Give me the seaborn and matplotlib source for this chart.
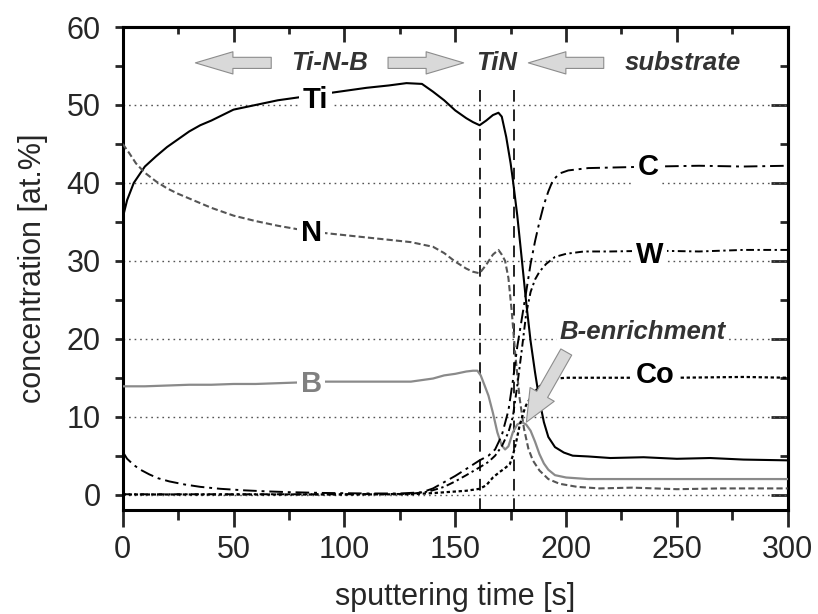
import numpy as np
import pandas as pd
import matplotlib
matplotlib.use('Agg')
import matplotlib.pyplot as plt
from matplotlib.ticker import MultipleLocator
import seaborn as sns

# --- values read from the depth profile ---
ti_x = [0, 2, 5, 10, 15, 20, 25, 30, 35, 40, 50, 60, 70, 80, 90, 100, 110, 120, 128, 135,
        140, 145, 150, 155, 158, 161, 164, 167, 169.5, 171, 173, 175, 176, 178, 180, 182, 184,
        186, 188, 190, 192, 195, 199, 203, 210, 220, 235, 250, 265, 280, 300]
ti_y = [35.5, 37.8, 40.0, 42.1, 43.4, 44.6, 45.6, 46.6, 47.4, 48.0, 49.4, 50.0, 50.6, 51.0,
        51.4, 51.8, 52.2, 52.5, 52.8, 52.7, 51.7, 50.6, 49.3, 48.3, 47.8, 47.4, 48.0, 48.7,
        49.0, 48.5, 45.9, 42.5, 40.4, 35.8, 30.3, 24.7, 19.7, 15.7, 12.1, 9.3, 7.4, 6.1, 5.4,
        5.0, 4.9, 4.7, 4.8, 4.6, 4.7, 4.5, 4.4]

n_x = [0, 3, 6, 10, 15, 20, 25, 30, 40, 50, 60, 70, 80, 90, 100, 110, 120, 130, 140, 145,
       150, 155, 158, 161, 164, 167, 169.5, 171, 172.5, 174, 175.5, 177, 179, 181, 183, 185,
       188, 192, 197, 205, 215, 230, 250, 270, 300]
n_y = [45.0, 43.8, 42.5, 41.3, 40.2, 39.3, 38.6, 38.0, 36.8, 35.8, 35.1, 34.5, 34.0, 33.6,
       33.3, 33.0, 32.7, 32.4, 31.8, 31.0, 29.9, 29.0, 28.6, 28.4, 29.5, 30.8, 31.4, 30.8,
       30.0, 27.8, 23.5, 18.3, 12.5, 8.5, 5.9, 4.4, 3.1, 2.0, 1.4, 1.0, 0.8, 0.9, 0.7, 0.8, 0.8]

b_x = [0, 10, 20, 30, 40, 50, 60, 70, 80, 90, 100, 110, 120, 130, 135, 140, 145, 150, 155,
       158, 160, 161.5, 163, 165, 167, 169, 171, 172.5, 174, 176, 178, 180, 182, 184, 186,
       188, 190, 192, 195, 200, 210, 230, 260, 300]
b_y = [13.9, 13.9, 14.0, 14.1, 14.1, 14.2, 14.2, 14.3, 14.4, 14.5, 14.5, 14.5, 14.5, 14.5,
       14.7, 14.9, 15.3, 15.5, 15.8, 15.9, 15.9, 15.3, 14.2, 12.7, 10.5, 8.0, 6.3, 5.8, 6.2,
       8.0, 9.0, 9.3, 9.0, 8.2, 6.8, 5.2, 4.0, 3.2, 2.5, 2.2, 2.0, 2.0, 2.0, 2.0]

c_x = [0, 2, 5, 8, 12, 16, 21, 28, 35, 44, 55, 65, 75, 90, 110, 125, 135, 140, 145, 150, 155,
       161, 165, 168, 171, 174, 176, 178, 180, 182, 184, 186, 188, 190, 192, 194, 197, 201,
       210, 225, 240, 260, 280, 300]
c_y = [5.5, 4.6, 3.8, 3.2, 2.6, 2.1, 1.7, 1.3, 1.0, 0.75, 0.55, 0.42, 0.32, 0.22, 0.15, 0.15,
       0.3, 0.8, 1.6, 2.4, 3.3, 4.4, 5.0, 5.8, 7.6, 10.8, 14.6, 19.0, 22.5, 26.0, 29.6, 32.5,
       35.0, 37.2, 38.9, 40.3, 41.2, 41.6, 41.9, 42.0, 42.1, 42.2, 42.1, 42.2]

w_x = [0, 50, 100, 130, 138, 145, 150, 155, 161, 165, 168, 171, 174, 176, 178, 180, 182, 184,
       186, 188, 191, 195, 200, 208, 220, 240, 260, 280, 300]
w_y = [0.05, 0.05, 0.05, 0.1, 0.4, 1.0, 1.7, 2.5, 3.5, 4.2, 5.0, 6.2, 8.0, 10.0, 14.0, 18.5,
       23.2, 26.0, 27.6, 28.6, 29.6, 30.5, 30.9, 31.2, 31.2, 31.3, 31.2, 31.4, 31.4]

co_x = [0, 50, 100, 130, 140, 150, 155, 161, 164, 167, 170, 172, 174.6, 176, 177.6, 179,
        180.6, 182, 185, 188, 192, 196, 200, 220, 250, 280, 300]
co_y = [0.02, 0.02, 0.02, 0.05, 0.2, 0.4, 0.5, 0.75, 1.2, 2.2, 2.9, 3.3, 3.9, 5.0, 6.9, 8.8,
        10.4, 11.5, 12.9, 13.9, 14.6, 14.9, 15.0, 15.0, 15.0, 15.1, 15.0]

interfaces = [161, 176.5]
x_ticks = [0, 50, 100, 150, 200, 250, 300]
y_ticks = [0, 10, 20, 30, 40, 50, 60]

sns.set_style('ticks')
plt.rcParams['font.family'] = ['Liberation Sans', 'DejaVu Sans']

fig = plt.figure(figsize=(8.18, 6.14), dpi=100)
ax = fig.add_axes([0.150, 0.169, 0.813, 0.787])

# dotted grid at 0..50
for g in [0, 10, 20, 30, 40, 50]:
    ax.axhline(g, color='#555555', lw=1.0, ls=(0, (1.2, 2.8)), zorder=1)

for xi in interfaces:
    ax.plot([xi, xi], [-2, 52.5], color='#222222', lw=1.4, ls=(0, (6, 4)), zorder=2)

series = [
    (ti_x, ti_y, 'black', '-', 1.5),
    (n_x, n_y, '#555555', (0, (3, 1.5)), 1.5),
    (b_x, b_y, '#8a8a8a', '-', 1.6),
    (c_x, c_y, 'black', (0, (7, 2.5, 1.5, 2.5)), 1.4),
    (w_x, w_y, 'black', (0, (4, 1.8, 1.2, 1.8)), 1.4),
    (co_x, co_y, 'black', (0, (1.5, 1.2)), 1.6),
]
for xs, ys, col, ls, lw in series:
    df = pd.DataFrame({'t': xs, 'c': ys})
    sns.lineplot(data=df, x='t', y='c', ax=ax, color=col, linestyle=ls, lw=lw, zorder=3)

box = dict(boxstyle='square,pad=0.12', fc='white', ec='none')
lab_kw = dict(ha='center', va='center', fontsize=21, fontweight='bold', bbox=box, zorder=5)
ax.text(87, 50.6, 'Ti', color='black', **lab_kw)
ax.text(85, 33.6, 'N', color='black', **lab_kw)
ax.text(85, 14.2, 'B', color='#808080', **lab_kw)
ax.text(237, 42.0, 'C', color='black', **lab_kw)
ax.text(237.6, 30.8, 'W', color='black', **lab_kw)
ax.text(240, 15.3, 'Co', color='black', **lab_kw)

reg_kw = dict(ha='center', va='center', fontsize=18.5, fontweight='bold', style='italic',
              color='#333333', zorder=5)
ax.text(93.5, 55.4, 'Ti-N-B', **reg_kw)
ax.text(168.5, 55.4, 'TiN', **reg_kw)
ax.text(252.5, 55.4, 'substrate', **reg_kw)
ax.text(234.7, 20.9, 'B-enrichment', bbox=box, **reg_kw)

arr = dict(arrowstyle='simple,head_length=2.7,head_width=1.6,tail_width=0.8',
           fc='#d9d9d9', ec='#8c8c8c', lw=0.8, mutation_scale=10, shrinkA=0, shrinkB=0)
for tip, tail in [(32.8, 67.0), (153.8, 119.7), (183.0, 217.0)]:
    ax.annotate('', xy=(tip, 55.4), xytext=(tail, 55.4), arrowprops=arr, zorder=6)
arr_b = dict(arrowstyle='simple,head_length=2.3,head_width=2.0,tail_width=0.9',
             fc='#d9d9d9', ec='#8c8c8c', lw=0.8, mutation_scale=10, shrinkA=0, shrinkB=0)
ax.annotate('', xy=(182.1, 9.3), xytext=(200.1, 18.3), arrowprops=arr_b, zorder=6)

ax.set_xlim(0, 300)
ax.set_ylim(-2, 60)
ax.set_xticks(x_ticks)
ax.set_yticks(y_ticks)
ax.xaxis.set_minor_locator(MultipleLocator(25))
ax.yaxis.set_minor_locator(MultipleLocator(5))
ax.tick_params(axis='x', which='major', direction='out', length=12, width=2, labelsize=22, pad=6)
ax.tick_params(axis='x', which='minor', direction='out', length=7, width=2)
ax.tick_params(axis='y', which='both', direction='out', length=6, width=2, labelsize=22, pad=10)
ax.set_xlabel('sputtering time [s]', fontsize=22, labelpad=12)
ax.set_ylabel('concentration [at.%]', fontsize=22, labelpad=13)
for sp in ax.spines.values():
    sp.set_linewidth(2.2)
    sp.set_color('black')

top = ax.secondary_xaxis('top')
top.set_xticks(x_ticks)
top.xaxis.set_minor_locator(MultipleLocator(25))
top.tick_params(which='major', direction='in', length=11, width=2, labeltop=False)
top.tick_params(which='minor', direction='in', length=5, width=2)
right = ax.secondary_yaxis('right')
right.set_yticks(y_ticks)
right.yaxis.set_minor_locator(MultipleLocator(5))
right.tick_params(which='major', direction='in', length=12, width=2, labelright=False)
right.tick_params(which='minor', direction='in', length=6, width=2)
for sec in (top, right):
    for sp in sec.spines.values():
        sp.set_linewidth(2.2)

fig.savefig('out.png', dpi=100)
